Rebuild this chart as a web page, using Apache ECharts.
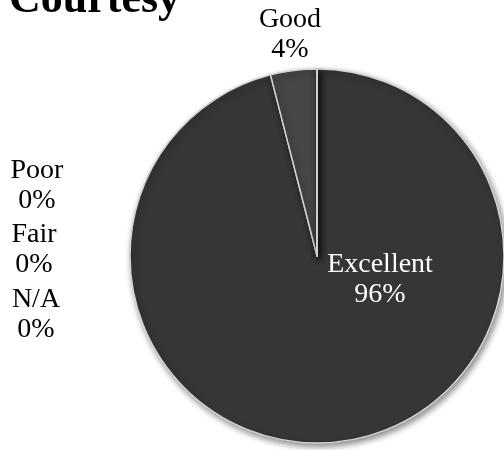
<!DOCTYPE html>
<html><head><meta charset="utf-8">
<script src="https://cdn.jsdelivr.net/npm/echarts@6/dist/echarts.min.js"></script>
<style>html,body{margin:0;padding:0;background:#fff}#c{width:504px;height:450px}</style>
</head><body><div id="c"></div>
<script>
var titleText = 'Courtesy';
var categories = ['Excellent', 'Good', 'Poor', 'Fair', 'N/A'];
var values = [96, 4, 0, 0, 0];
var colors = ['#363636', '#464646', '#555555', '#5a5a5a', '#606060'];
// label anchor (center of two-line label) per category
var labelPos = [[380, 280], [290, 35], [37, 186], [34, 250], [36, 315]];
var labelColor = ['#ffffff', '#000000', '#000000', '#000000', '#000000'];

var chart = echarts.init(document.getElementById('c'));
chart.setOption({
  animation: false,
  title: {
    text: titleText, left: 9, top: -21, padding: 0,
    textStyle: {fontFamily: 'Liberation Serif', fontWeight: 'bold', fontSize: 44, lineHeight: 44, color: '#000'}
  },
  series: [{
    type: 'pie',
    center: [317, 256],
    radius: 187,
    startAngle: 90,
    clockwise: true,
    avoidLabelOverlap: false,
    minShowLabelAngle: -1,
    data: categories.map(function (c, i) {
      return {
        name: c, value: values[i],
        itemStyle: {color: colors[i]},
        label: {color: labelColor[i]}
      };
    }),
    itemStyle: {
      borderColor: '#d4d4d4', borderWidth: 1.5,
      shadowBlur: 6, shadowColor: 'rgba(0,0,0,0.45)', shadowOffsetX: 2, shadowOffsetY: 3
    },
    label: {
      show: true, position: 'inside',
      formatter: function (p) { return p.name + '\n' + Math.round(p.percent) + '%'; },
      fontFamily: 'Liberation Serif', fontSize: 28, lineHeight: 30, align: 'center'
    },
    labelLine: {show: false},
    labelLayout: function (params) {
      var p = labelPos[params.dataIndex];
      return {x: p[0], y: p[1], align: 'center', verticalAlign: 'middle'};
    },
    emphasis: {disabled: true}
  }]
});
</script>
</body></html>
